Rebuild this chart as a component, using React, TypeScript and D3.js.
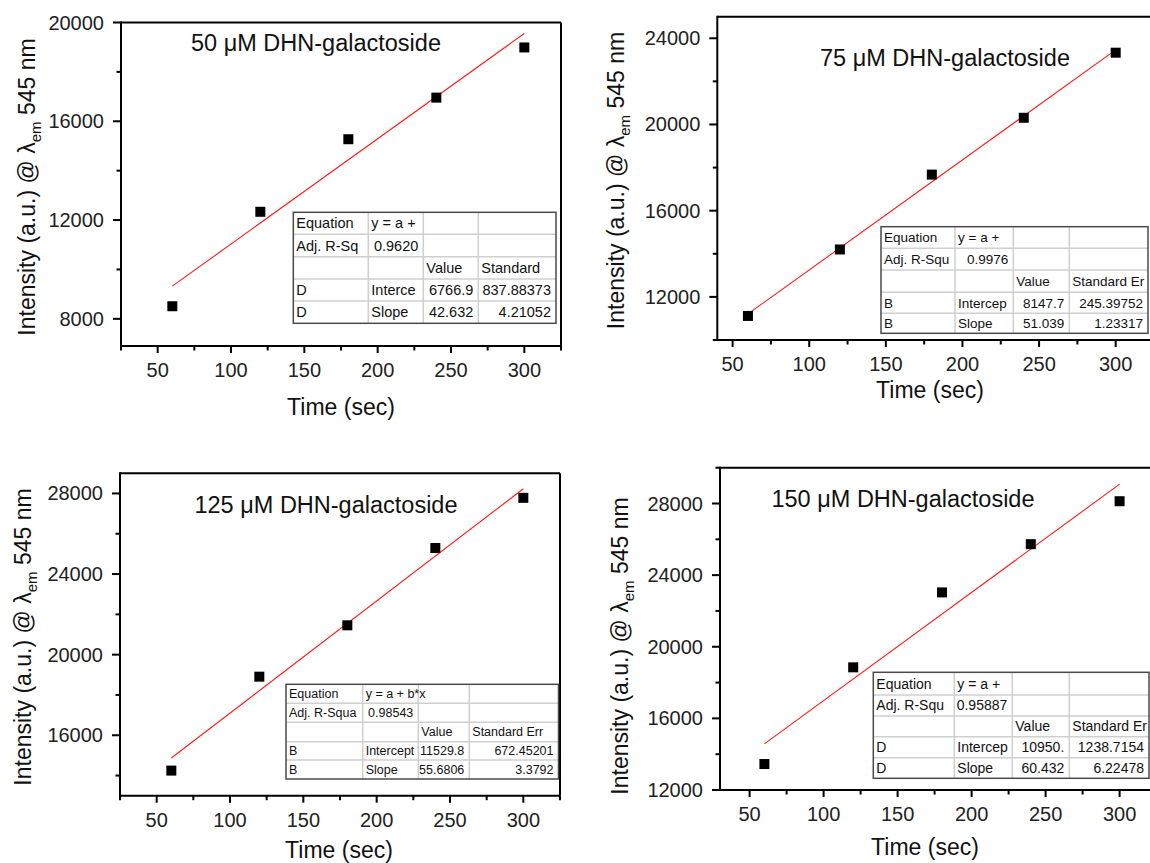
import React from 'react';
import * as d3 from 'd3';

// ---------------- data ----------------
const times = [60, 120, 180, 240, 300];
const intensity50 = [8510, 12335, 15273, 16958, 18990];
const intensity75 = [11116, 14200, 17674, 20310, 23330];
const intensity125 = [14246, 18907, 21456, 25292, 27782];
const intensity150 = [13450, 18851, 23035, 25729, 28128];

const concentrations = ['50', '75', '125', '150'];
const fitIntercepts = [6766.9, 8147.7, 11529.8, 10950];
const fitSlopes = [42.632, 51.039, 55.6806, 60.432];

const xMajorTicks = [50, 100, 150, 200, 250, 300];
const xMinorTicks = [25, 75, 125, 175, 225, 275, 325];

const yMajor50 = [8000, 12000, 16000, 20000];
const yMinor50 = [10000, 14000, 18000];
const yMajor75 = [12000, 16000, 20000, 24000];
const yMinor75 = [10000, 14000, 18000, 22000];
const yMajor125 = [16000, 20000, 24000, 28000];
const yMinor125 = [14000, 18000, 22000, 26000];
const yMajor150 = [12000, 16000, 20000, 24000, 28000];
const yMinor150 = [14000, 18000, 22000, 26000, 30000];

const table50 = [
  ['Equation', 'y = a +', '', ''],
  ['Adj. R-Sq', '0.9620', '', ''],
  ['', '', 'Value', 'Standard'],
  ['D', 'Interce', '6766.9', '837.88373'],
  ['D', 'Slope', '42.632', '4.21052'],
];
const table75 = [
  ['Equation', 'y = a +', '', ''],
  ['Adj. R-Squ', '0.9976', '', ''],
  ['', '', 'Value', 'Standard Er'],
  ['B', 'Intercep', '8147.7', '245.39752'],
  ['B', 'Slope', '51.039', '1.23317'],
];
const table125 = [
  ['Equation', 'y = a + b*x', '', ''],
  ['Adj. R-Squa', '0.98543', '', ''],
  ['', '', 'Value', 'Standard Err'],
  ['B', 'Intercept', '11529.8', '672.45201'],
  ['B', 'Slope', '55.6806', '3.3792'],
];
const table150 = [
  ['Equation', 'y = a +', '', ''],
  ['Adj. R-Squ', '0.95887', '', ''],
  ['', '', 'Value', 'Standard Er'],
  ['D', 'Intercep', '10950.', '1238.7154'],
  ['D', 'Slope', '60.432', '6.22478'],
];

// ---------------- layout ----------------
const FONT = "Arial, 'Liberation Sans', sans-serif";

const layouts = [
  {
    values: intensity50, yMajor: yMajor50, yMinor: yMinor50, table: table50,
    left: 121, right: 561, top: 22.5, bottom: 346,
    xDomain: [25, 325], yDomain: [6900, 20000],
    titleX: 316, titleY: 51, xTitleX: 341, xTitleY: 415, yTitleX: 35, yTitleY: 187,
    tCols: [293.3, 368.3, 423.3, 478.3, 556], tRows: [212.3, 234.3, 256.7, 279, 301, 323.3], tFont: 14.5,
  },
  {
    values: intensity75, yMajor: yMajor75, yMinor: yMinor75, table: table75,
    left: 717.3, right: 1154, top: 16.7, bottom: 340,
    xDomain: [40, 325], yDomain: [10000, 25000],
    titleX: 945, titleY: 66, xTitleX: 930, xTitleY: 398, yTitleX: 624, yTitleY: 180.5,
    tCols: [881, 955, 1013.3, 1069.3, 1148], tRows: [226.7, 248.3, 270, 292.3, 313.3, 333.3], tFont: 13.5,
  },
  {
    values: intensity125, yMajor: yMajor125, yMinor: yMinor125, table: table125,
    left: 120, right: 560, top: 473.3, bottom: 795.7,
    xDomain: [25, 325], yDomain: [13000, 29000],
    titleX: 326, titleY: 513, xTitleX: 339, xTitleY: 858, yTitleX: 31, yTitleY: 637,
    tCols: [286, 362.7, 418.3, 469.3, 558.5], tRows: [684.3, 703.3, 722.3, 741.7, 760, 779], tFont: 12.5,
  },
  {
    values: intensity150, yMajor: yMajor150, yMinor: yMinor150, table: table150,
    left: 720, right: 1164, top: 467.7, bottom: 790,
    xDomain: [30, 330], yDomain: [12000, 30000],
    titleX: 903, titleY: 507, xTitleX: 925, xTitleY: 855, yTitleX: 628, yTitleY: 646,
    tCols: [873.3, 954.3, 1012.3, 1069.3, 1149], tRows: [672.3, 695, 716, 736.7, 757.7, 778.3], tFont: 14,
  },
];

function FitTable({ rows, cols, rowsY, font }: any) {
  const x0 = cols[0], x1 = cols[cols.length - 1];
  const y0 = rowsY[0], y1 = rowsY[rowsY.length - 1];
  const cells: any[] = [];
  rows.forEach((row: string[], r: number) => {
    row.forEach((txt: string, c: number) => {
      if (!txt) return;
      const rightAlign = (r === 1 && c === 1) || (r >= 3 && (c === 2 || c === 3));
      const cy = (rowsY[r] + rowsY[r + 1]) / 2 + font * 0.35;
      const x = rightAlign ? cols[c + 1] - 5 : cols[c] + 3;
      cells.push(
        <text key={`${r}-${c}`} x={x} y={cy} fontSize={font} fontFamily={FONT}
          textAnchor={rightAlign ? 'end' : 'start'} fill="#111">{txt}</text>
      );
    });
  });
  return (
    <g>
      <rect x={x0} y={y0} width={x1 - x0} height={y1 - y0} fill="#fff" />
      {rowsY.slice(1, -1).map((y: number, i: number) => (
        <line key={'h' + i} x1={x0} x2={x1} y1={y} y2={y} stroke="#cfcfcf" strokeWidth={1.5} />
      ))}
      {cols.slice(1, -1).map((x: number, i: number) => (
        <line key={'v' + i} x1={x} x2={x} y1={y0} y2={y1} stroke="#cfcfcf" strokeWidth={1.5} />
      ))}
      <rect x={x0} y={y0} width={x1 - x0} height={y1 - y0} fill="none" stroke="#4a4a4a" strokeWidth={1.5} />
      {cells}
    </g>
  );
}

function Panel({ L, idx }: any) {
  const x = d3.scaleLinear().domain(L.xDomain).range([L.left, L.right]);
  const y = d3.scaleLinear().domain(L.yDomain).range([L.bottom, L.top]);
  const inX = (v: number) => v >= L.xDomain[0] && v <= L.xDomain[1];
  const inY = (v: number) => v >= L.yDomain[0] && v <= L.yDomain[1];
  const a = fitIntercepts[idx], b = fitSlopes[idx];
  const fitPts: [number, number][] = [times[0], times[times.length - 1]].map(t => [x(t), y(a + b * t)]);
  const line = d3.line()(fitPts) as string;
  const S = 10;
  return (
    <g>
      {/* frame */}
      <line x1={L.left} x2={L.right} y1={L.top} y2={L.top} stroke="#000" strokeWidth={2} />
      <line x1={L.right} x2={L.right} y1={L.top} y2={L.bottom} stroke="#000" strokeWidth={2} />
      <line x1={L.left} x2={L.left} y1={L.top - 1} y2={L.bottom + 1} stroke="#000" strokeWidth={2} />
      <line x1={L.left - 1} x2={L.right} y1={L.bottom} y2={L.bottom} stroke="#000" strokeWidth={2} />
      {/* x ticks */}
      {xMajorTicks.filter(inX).map(t => (
        <g key={'xm' + t}>
          <line x1={x(t)} x2={x(t)} y1={L.bottom} y2={L.bottom + 7} stroke="#000" strokeWidth={2} />
          <text x={x(t)} y={L.bottom + 31} fontSize={20} fontFamily={FONT} textAnchor="middle" fill="#222">{t}</text>
        </g>
      ))}
      {xMinorTicks.filter(inX).map(t => (
        <line key={'xn' + t} x1={x(t)} x2={x(t)} y1={L.bottom} y2={L.bottom + 4.5} stroke="#000" strokeWidth={2} />
      ))}
      {/* y ticks */}
      {L.yMajor.filter(inY).map((t: number) => (
        <g key={'ym' + t}>
          <line x1={L.left - 8} x2={L.left} y1={y(t)} y2={y(t)} stroke="#000" strokeWidth={2} />
          <text x={L.left - 17} y={y(t) + 7} fontSize={20} fontFamily={FONT} textAnchor="end" fill="#222">{t}</text>
        </g>
      ))}
      {L.yMinor.filter(inY).map((t: number) => (
        <line key={'yn' + t} x1={L.left - 4.5} x2={L.left} y1={y(t)} y2={y(t)} stroke="#000" strokeWidth={2} />
      ))}
      {/* fit line */}
      <path d={line} stroke="#ff1a1a" strokeWidth={1.1} fill="none" />
      {/* points */}
      {times.map((t, i) => (
        <rect key={'p' + i} x={x(t) - S / 2} y={y(L.values[i]) - S / 2} width={S} height={S} fill="#000" />
      ))}
      {/* table */}
      <FitTable rows={L.table} cols={L.tCols} rowsY={L.tRows} font={L.tFont} />
      {/* title */}
      <text x={L.titleX} y={L.titleY} fontSize={23.5} fontFamily={FONT} textAnchor="middle" fill="#111">
        {concentrations[idx]} μM DHN-galactoside
      </text>
      {/* axis titles */}
      <text x={L.xTitleX} y={L.xTitleY} fontSize={23} fontFamily={FONT} textAnchor="middle" fill="#111">Time (sec)</text>
      <text transform={`translate(${L.yTitleX},${L.yTitleY}) rotate(-90)`} fontSize={23} fontFamily={FONT}
        textAnchor="middle" fill="#111">
        Intensity (a.u.) @ λ<tspan fontSize={15} dy={6}>em</tspan><tspan dy={-6}> 545 nm</tspan>
      </text>
    </g>
  );
}

export default function App() {
  return (
    <svg width={1150} height={863} style={{ position: 'absolute', left: 0, top: 0, background: '#fff' }}>
      <rect x={0} y={0} width={1150} height={863} fill="#fff" />
      {layouts.map((L, i) => <Panel key={i} L={L} idx={i} />)}
    </svg>
  );
}
